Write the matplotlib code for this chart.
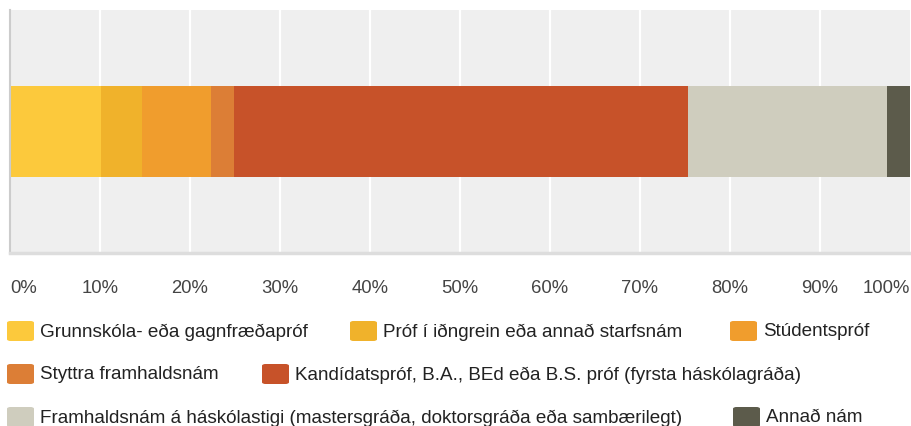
import matplotlib
matplotlib.use("Agg")
import matplotlib.pyplot as plt
from matplotlib.patches import FancyBboxPatch

categories = [
    "Grunnskóla- eða gagnfræðapróf",
    "Próf í iðngrein eða annað starfsnám",
    "Stúdentspróf",
    "Styttra framhaldsnám",
    "Kandídatspróf, B.A., BEd eða B.S. próf (fyrsta háskólagráða)",
    "Framhaldsnám á háskólastigi (mastersgráða, doktorsgráða eða sambærilegt)",
    "Annað nám",
]
values = [10.1, 4.6, 7.6, 2.6, 50.4, 22.2, 2.5]
colors = ["#fcc93c", "#f0b22b", "#f09d2d", "#dc7e36", "#c75229", "#cfcdbe", "#5c5b4b"]
tick_values = [0, 10, 20, 30, 40, 50, 60, 70, 80, 90, 100]
tick_labels = [f"{t}%" for t in tick_values]

plt.rcParams["font.family"] = ["Liberation Sans", "DejaVu Sans"]
W, H = 912, 427
fig = plt.figure(figsize=(W / 100, H / 100), dpi=100)
ax = fig.add_axes([10 / W, 1 - 254 / H, 900 / W, 243 / H])
ax.set_facecolor("#efefef")
ax.set_xlim(0, 100)
ax.set_ylim(-1, 1)

for t in tick_values[1:-1]:
    ax.axvline(t, color="white", lw=1.6, zorder=1)

left = 0
for v, c in zip(values, colors):
    ax.barh(0, v, left=left, height=0.75, color=c, zorder=2, linewidth=0)
    left += v

for s in ["top", "right"]:
    ax.spines[s].set_visible(False)
ax.spines["left"].set_color("#cccccc")
ax.spines["left"].set_linewidth(1.5)
ax.spines["bottom"].set_color("#dddddd")
ax.spines["bottom"].set_linewidth(2.5)
ax.set_yticks([])
ax.set_xticks([])

# tick labels
for t, lab in zip(tick_values, tick_labels):
    ha = "left" if t == 0 else ("right" if t == 100 else "center")
    ax.annotate(lab, xy=(t, 0), xycoords=("data", "figure pixels"),
                xytext=(0, H - 289), textcoords="offset pixels",
                ha=ha, va="center", fontsize=13.3, color="#444444")

# legend
rows = [(332, [(7, 0), (350, 1), (730, 2)]),
        (375, [(7, 3), (262, 4)]),
        (418, [(7, 5), (733, 6)])]
for y, items in rows:
    for x, i in items:
        p = FancyBboxPatch((x / W, 1 - (y + 10) / H), 27 / W, 20 / H,
                           boxstyle="round,pad=0,rounding_size=0.004",
                           transform=fig.transFigure, facecolor=colors[i],
                           edgecolor="none")
        fig.patches.append(p)
        fig.text((x + 33) / W, 1 - y / H, categories[i], ha="left", va="center",
                 fontsize=13.6, color="#222222")

fig.savefig("out.png", dpi=100)
